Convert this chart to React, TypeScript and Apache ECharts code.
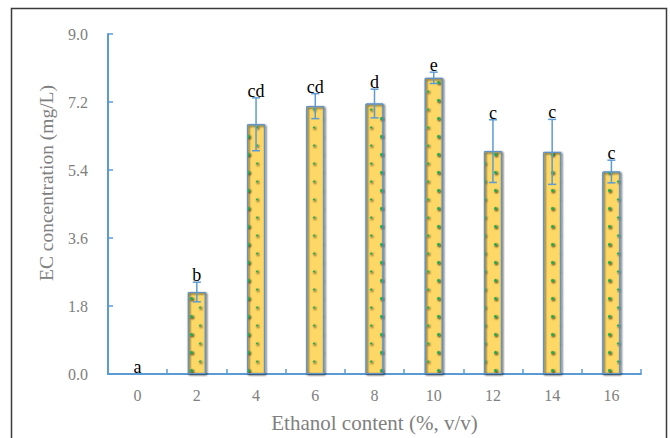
import React, { useEffect, useRef } from "react";
import * as echarts from "echarts";

const categories = ["0", "2", "4", "6", "8", "10", "12", "14", "16"];
const values = [0, 2.17, 6.61, 7.09, 7.16, 7.84, 5.9, 5.88, 5.36];
const errors = [0, 0.26, 0.7, 0.33, 0.38, 0.15, 0.83, 0.86, 0.3];
const letters = ["a", "b", "cd", "cd", "d", "e", "c", "c", "c"];
const yTicks = [0, 1.8, 3.6, 5.4, 7.2, 9.0];
const xTitle = "Ethanol content (%, v/v)";
const yTitle = "EC concentration (mg/L)";

const SERIF = "Liberation Serif";
const AXIS_BLUE = "#5B9BD5";
const GRAY = "#808080";

export default function App() {
  const ref = useRef<HTMLDivElement>(null);
  useEffect(() => {
    document.body.style.margin = "0";
    const chart = echarts.init(ref.current!, null, { renderer: "svg", width: 670, height: 438 });
    const errData = values.map((v, i) => [i, v, errors[i]]);
    chart.setOption({
      animation: false,
      backgroundColor: "#ffffff",
      textStyle: { fontFamily: SERIF },
      grid: { left: 108, right: 29, top: 34, bottom: 61 },
      graphic: [
        {
          type: "rect",
          shape: { x: 11.5, y: 8.5, width: 655, height: 440 },
          style: { fill: "none", stroke: "#3a3a3a", lineWidth: 1.5 },
          silent: true,
          z: 100,
        },
        {
          type: "text",
          x: 46,
          y: 183,
          rotation: Math.PI / 2,
          style: {
            text: yTitle,
            fontFamily: SERIF,
            fontSize: 19.5,
            fill: GRAY,
            align: "center",
            verticalAlign: "middle",
          },
        },
      ],
      xAxis: {
        type: "category",
        data: categories,
        boundaryGap: true,
        name: xTitle,
        nameLocation: "middle",
        nameGap: 38,
        nameTextStyle: { fontFamily: SERIF, fontSize: 21, color: GRAY },
        axisLine: { show: true, lineStyle: { color: AXIS_BLUE, width: 2 } },
        axisTick: { show: true, inside: true, length: 5, lineStyle: { color: AXIS_BLUE, width: 1.5 } },
        axisLabel: { fontFamily: SERIF, fontSize: 16, color: GRAY, margin: 13 },
        splitLine: { show: false },
      },
      yAxis: {
        type: "value",
        min: 0,
        max: 9,
        interval: 1.8,
        axisLine: { show: true, lineStyle: { color: AXIS_BLUE, width: 2 } },
        axisTick: { show: true, inside: true, length: 5, lineStyle: { color: AXIS_BLUE, width: 1.5 } },
        axisLabel: {
          fontFamily: SERIF,
          fontSize: 16,
          color: GRAY,
          margin: 20,
          formatter: (v: number) => {
            const t = yTicks.find((x) => Math.abs(x - v) < 1e-6);
            return (t !== undefined ? t : v).toFixed(1);
          },
        },
        splitLine: { show: false },
      },
      series: [
        {
          type: "bar",
          data: values,
          barWidth: 18,
          itemStyle: {
            color: "#FDD866",
            borderColor: "#6194C8",
            borderWidth: 1,
            shadowColor: "rgba(0,0,0,0.15)",
            shadowBlur: 2,
            shadowOffsetX: 1,
            shadowOffsetY: 1,
            decal: {
              symbol: "circle",
              symbolSize: 1,
              color: "#23AA4C",
              dashArrayX: [[2.5, 15.5], [0, 9, 1.2, 7.8]],
              dashArrayY: [2.5, 6],
              rotation: 0,
            },
          },
          z: 2,
        },
        {
          type: "custom",
          data: errData,
          z: 5,
          renderItem: (params: any, api: any) => {
            const i = api.value(0);
            const v = api.value(1);
            const e = api.value(2);
            const top = api.coord([i, v + e]);
            const bot = api.coord([i, v - e]);
            const x = top[0];
            const children: any[] = [];
            if (e > 0) {
              const style = { stroke: AXIS_BLUE, lineWidth: 1.5 };
              children.push(
                { type: "line", shape: { x1: x, y1: top[1], x2: x, y2: bot[1] }, style },
                { type: "line", shape: { x1: x - 4, y1: top[1], x2: x + 4, y2: top[1] }, style },
                { type: "line", shape: { x1: x - 4, y1: bot[1], x2: x + 4, y2: bot[1] }, style }
              );
            }
            children.push({
              type: "text",
              x: x,
              y: top[1] + 2,
              style: {
                text: letters[params.dataIndex],
                fontFamily: SERIF,
                fontSize: 18,
                fill: "#000000",
                align: "center",
                verticalAlign: "bottom",
              },
            });
            return { type: "group", children };
          },
        },
      ],
    });
    return () => chart.dispose();
  }, []);
  return (
    <div
      ref={ref}
      style={{ position: "fixed", left: 0, top: 0, width: 670, height: 438 }}
    />
  );
}
